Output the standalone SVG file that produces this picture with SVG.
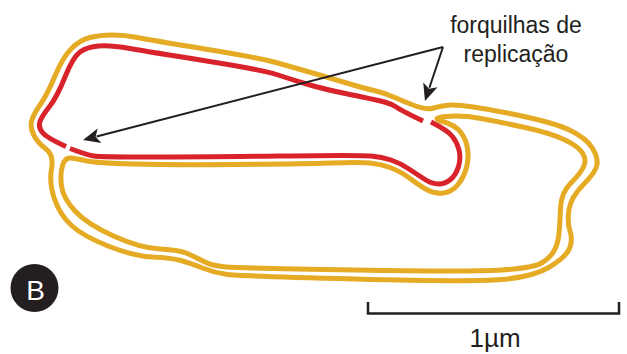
<svg xmlns="http://www.w3.org/2000/svg" width="627" height="354" viewBox="0 0 627 354">
  <style>
    .parental { fill: none; stroke: #e6ab25; stroke-width: 5; stroke-linejoin: round; }
    .daughter { fill: none; stroke: #d9232b; stroke-width: 5; stroke-linejoin: round; stroke-linecap: butt; }
    .pointer { fill: none; stroke: #231f20; stroke-width: 2; }
    .label { font-family: "Liberation Sans", Arial, sans-serif; fill: #231f20; text-anchor: middle; }
  </style>
  <defs>
    <marker id="head" markerUnits="userSpaceOnUse" markerWidth="20" markerHeight="20" refX="0" refY="0" viewBox="-4 -9 20 18" orient="auto" overflow="visible">
      <path d="M14,0 L-3,-7.5 L1,0 L-3,7.5 Z" fill="#231f20"/>
    </marker>
  </defs>

  <rect width="627" height="354" fill="#ffffff"/>

  <!-- parental strand running over the top of the bubble and along the outside of the loop -->
  <g id="parental-outer">
    <path class="parental" d="M 417,106.5 Q 427,110 433.5,108 Q 440,106 451,105 Q 462,104 507.5,113 Q 553,122 569.5,130 Q 586,138 592,147.5 Q 598,157 597,164.5 Q 596,172 583.5,184.5 Q 571,197 569,209.5 Q 567,222 570,231 Q 573,240 569.5,248.5 Q 566,257 549.5,267 Q 533,277 501.5,279.5 Q 470,282 355,279 Q 240,276 227.5,274.5 Q 215,273 202.5,268 Q 190,263 181,260.5 Q 172,258 152.5,257 Q 133,256 108,246 Q 83,236 71.5,225.5 Q 60,215 54.5,199 Q 49,183 51.5,169 Q 54,155 46,149 Q 38,143 34,135.5 Q 30,128 31.5,121.5 Q 33,115 40,105 Q 47,95 55,76 Q 63,57 71.5,48.5 Q 80,40 90,37.5 Q 100,35 112.5,35 Q 125,35 137.5,37.5 Q 150,40 205,49 Q 260,58 276,62.5 Q 292,67 311,72.5 Q 330,78 346.5,83 Q 363,88 374,90.5 Q 385,93 396,98 Q 407,103 417,106.5 Z"/>
  </g>

  <!-- parental strand under the lower arm of the bubble and along the inside of the loop -->
  <g id="parental-inner">
    <path class="parental" d="M 62.5,165.5 Q 65,157 71.5,158 Q 78,159 87.5,161 Q 97,163 133.5,164 Q 170,165 235,164.5 Q 300,164 330,163 Q 360,162 370,163 Q 380,164 390,167.5 Q 400,171 410,178.5 Q 420,186 427.5,190 Q 435,194 443.5,193 Q 452,192 458,184.5 Q 464,177 466.5,167.5 Q 469,158 467.5,148.5 Q 466,139 460.5,132 Q 455,125 442.5,121.5 Q 430,118 446,116.5 Q 462,115 481,118.5 Q 500,122 525,127.5 Q 550,133 564,139.5 Q 578,146 582.5,153 Q 587,160 583.5,167 Q 580,174 570.5,183.5 Q 561,193 560.5,208 Q 560,223 559,233.5 Q 558,244 554,251 Q 550,258 541.5,263 Q 533,268 501.5,270 Q 470,272 355,270 Q 240,268 226.5,267 Q 213,266 205,262 Q 197,258 188.5,254 Q 180,250 160,249 Q 140,248 113.5,236 Q 87,224 75,211 Q 63,198 61.5,186 Q 60,174 62.5,165.5 Z"/>
  </g>

  <!-- newly made strands inside the replication bubble -->
  <g id="daughter-strands">
    <path class="daughter" d="M 66,146.5 Q 47,138 42.5,132.5 Q 38,127 40,121.5 Q 42,116 49.5,106.5 Q 57,97 65,77 Q 73,57 80,52 Q 87,47 98.5,46 Q 110,45 130,48.5 Q 150,52 206.5,61 Q 263,70 276.5,74.5 Q 290,79 306.5,84 Q 323,89 350,94.5 Q 377,100 384.5,102 Q 392,104 397,107.5 Q 402,111 423,121"/>
    <path class="daughter" d="M 70,148.5 Q 87,155 93.5,156 Q 100,157 150,157 Q 200,157 280,156 Q 360,155 371,156 Q 382,157 391,160 Q 400,163 409,169 Q 418,175 425,179.5 Q 432,184 438.5,184 Q 445,184 450.5,179.5 Q 456,175 458.5,166.5 Q 461,158 459,150 Q 457,142 452,136 Q 447,130 431,122"/>
  </g>

  <!-- pointers from the label to both forks -->
  <g id="connectors">
    <path class="pointer" d="M 443,47 L 96.6,136.5" marker-end="url(#head)"/>
    <path class="pointer" d="M 443,47 L 429.4,87.7" marker-end="url(#head)"/>
  </g>

  <g id="fork-label">
    <text class="label" x="516" y="33" font-size="23">forquilhas de</text>
    <text class="label" x="516" y="62" font-size="23">replicação</text>
  </g>

  <g id="scale-bar">
    <path d="M 368,302 V 313.5 H 619 V 302" fill="none" stroke="#231f20" stroke-width="2.5"/>
    <text class="label" x="495" y="347" font-size="26">1µm</text>
  </g>

  <g id="panel-badge">
    <circle cx="34.5" cy="288" r="24" fill="#231f20"/>
    <text x="35.5" y="300" font-family="Liberation Sans, Arial, sans-serif" font-size="28" fill="#ffffff" text-anchor="middle">B</text>
  </g>
</svg>
